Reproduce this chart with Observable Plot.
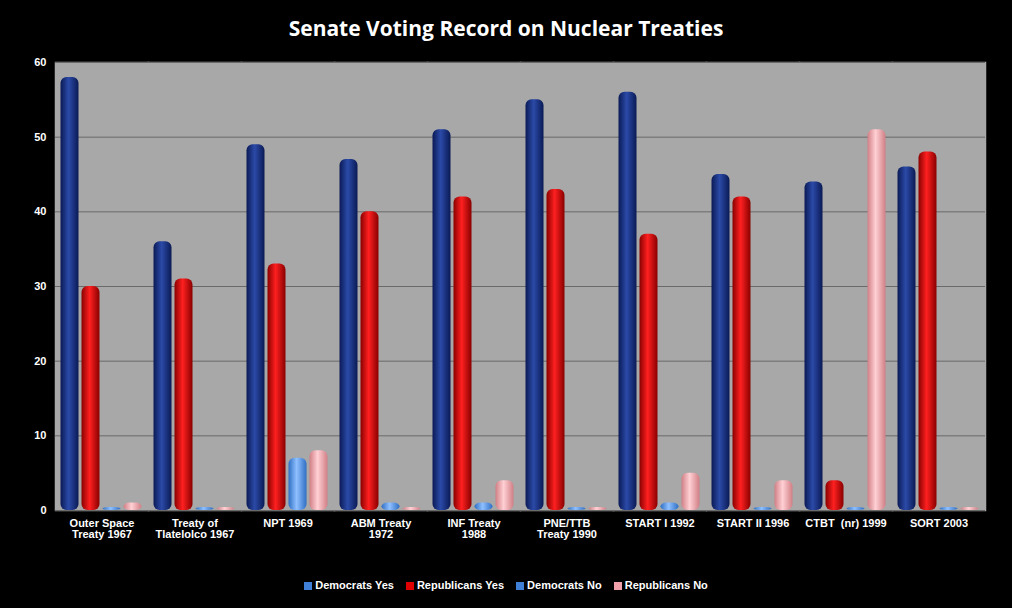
<!DOCTYPE html>
<html><head><meta charset="utf-8">
<script src="https://cdn.jsdelivr.net/npm/d3@7"></script>
<script src="https://cdn.jsdelivr.net/npm/@observablehq/plot@0.6"></script>
<style>
body{margin:0;background:#000;font-family:"Liberation Sans",Arial,sans-serif;}
#title{color:#fff;font-weight:bold;font-size:21px;text-align:center;height:45px;line-height:56px;font-family:"Open Sans","Liberation Sans",sans-serif;}
#legend{color:#fff;font-size:11px;font-weight:bold;text-align:center;margin-top:24px}
#legend span{margin:0 6px}
#legend i{display:inline-block;width:8px;height:8px;margin-right:3px;vertical-align:-1px}
</style></head><body>
<div id="title">Senate Voting Record on Nuclear Treaties</div>
<div id="chart"></div>
<div id="legend"></div>
<script>
const treaties = ["Outer Space\nTreaty 1967","Treaty of\nTlatelolco 1967","NPT 1969","ABM Treaty\n1972","INF Treaty\n1988","PNE/TTB\nTreaty 1990","START I 1992","START II 1996","CTBT  (nr) 1999","SORT 2003"];
const series = ["Democrats Yes","Republicans Yes","Democrats No","Republicans No"];
const demYes = [58,36,49,47,51,55,56,45,44,46];
const repYes = [30,31,33,40,42,43,37,42,4,48];
const demNo  = [0,0,7,1,1,0,1,0,0,0];
const repNo  = [1,0,8,0,4,0,5,4,51,0];
const yTicks = [0,10,20,30,40,50,60];
const grads = [["gDY","#0a1a55","#2b4aa8"],["gRY","#8a0000","#ff2020"],["gDN","#2f6fc4","#8fc0ff"],["gRN","#d07f85","#ffd0d4"]];
const legendCols = ["#3f7fd6","#e00000","#3f7fd6","#f0a0a8"];
const vals = [demYes,repYes,demNo,repNo];
const rows = [];
treaties.forEach((t,i)=>series.forEach((s,j)=>rows.push({treaty:t,series:s,value:Math.max(vals[j][i],0.4),k:j})));
const marks = [
  Plot.frame({fill:"#a8a8a8",stroke:"#a8a8a8",strokeWidth:1.5}),
  Plot.gridY(yTicks,{stroke:"#6a6a6a",strokeOpacity:1}),
];
series.forEach((s,j)=>{
  marks.push(Plot.barY(rows.filter(r=>r.k===j),{fx:"treaty",x:"series",y:"value",fill:`url(#${grads[j][0]})`,rx:6,insetLeft:0.5,insetRight:0.5}));
});
const chart = Plot.plot({
  width:1012,height:510,marginLeft:55,marginRight:27,marginTop:17,marginBottom:45,
  fx:{domain:treaties,padding:0,label:null,axis:"bottom",tickSize:0},
  x:{domain:series,padding:0.08,axis:null,paddingOuter:0.2},
  y:{domain:[0,60],ticks:yTicks,label:null,tickSize:0,tickFormat:d=>d},
  style:{background:"transparent",color:"#fff",fontSize:"11px",fontWeight:"bold",fontFamily:"Liberation Sans, Arial, sans-serif"},
  marks
});
const defs = grads.map(([id,a,b])=>`<linearGradient id="${id}" x1="0" x2="1"><stop offset="0" stop-color="${a}"/><stop offset="0.45" stop-color="${b}"/><stop offset="1" stop-color="${a}"/></linearGradient>`).join("");
chart.insertAdjacentHTML("afterbegin",`<defs>${defs}</defs>`);
document.getElementById("chart").appendChild(chart);
document.getElementById("legend").innerHTML = series.map((s,j)=>`<span><i style="background:${legendCols[j]}"></i>${s}</span>`).join("");
</script></body></html>
